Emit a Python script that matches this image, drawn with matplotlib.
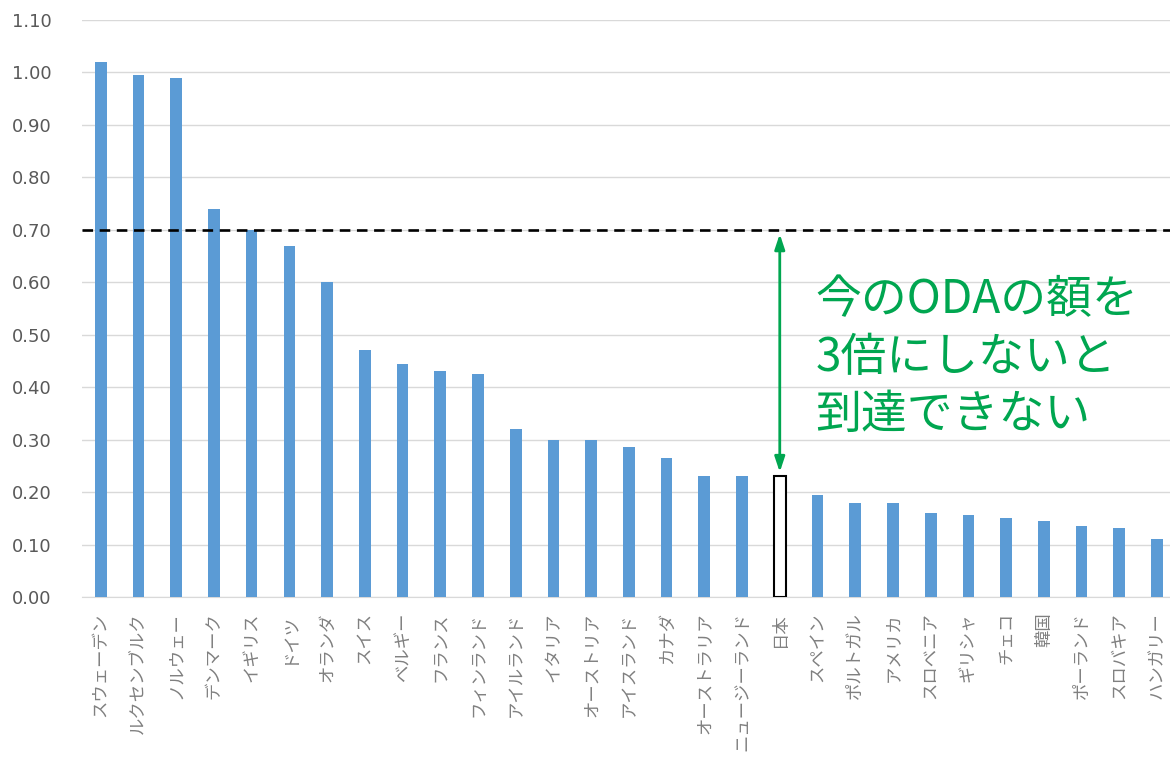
import matplotlib
matplotlib.use("Agg")
import matplotlib.pyplot as plt

plt.rcParams["font.family"] = ["Noto Sans CJK JP", "DejaVu Sans"]

countries = ["スウェーデン", "ルクセンブルク", "ノルウェー", "デンマーク", "イギリス",
             "ドイツ", "オランダ", "スイス", "ベルギー", "フランス", "フィンランド",
             "アイルランド", "イタリア", "オーストリア", "アイスランド", "カナダ",
             "オーストラリア", "ニュージーランド", "日本", "スペイン", "ポルトガル",
             "アメリカ", "スロベニア", "ギリシャ", "チェコ", "韓国", "ポーランド",
             "スロバキア", "ハンガリー"]
oda_gni = [1.02, 0.995, 0.99, 0.74, 0.70, 0.67, 0.60, 0.47, 0.445, 0.43, 0.425,
           0.32, 0.30, 0.30, 0.285, 0.265, 0.23, 0.23, 0.23, 0.195, 0.18,
           0.18, 0.16, 0.157, 0.15, 0.145, 0.135, 0.132, 0.11]
target = 0.70
highlight = "日本"
note = "今のODAの額を\n3倍にしないと\n到達できない"

blue = "#5b9bd5"
green = "#00a650"

fig = plt.figure(figsize=(11.7, 7.6), dpi=100)
ax = fig.add_axes([0.070, 0.2145, 0.935, 0.7592])

x = list(range(len(countries)))
colors = ["white" if c == highlight else blue for c in countries]
edges = ["black" if c == highlight else blue for c in countries]
lws = [1.5 if c == highlight else 0 for c in countries]
ax.bar(x, oda_gni, width=0.31, color=colors, edgecolor=edges, linewidth=lws, zorder=3)

ax.set_xlim(-0.5, len(countries) - 0.5)
ax.set_ylim(0, 1.10)
ax.set_yticks([i / 10 for i in range(12)])
ax.set_yticklabels([f"{i / 10:.2f}" for i in range(12)], fontsize=13, color="#595959",
                   family=["DejaVu Sans"])
ax.grid(axis="y", color="#d9d9d9", linewidth=1, zorder=0)
ax.set_axisbelow(True)
ax.tick_params(axis="y", length=0, pad=22)

ax.set_xticks(x)
ax.set_xticklabels(countries, rotation=90, fontsize=12.5, color="#808080", va="top")
ax.tick_params(axis="x", length=0, pad=11)

for s in ["top", "right", "left"]:
    ax.spines[s].set_visible(False)
ax.spines["bottom"].set_color("#d9d9d9")

ax.axhline(target, color="black", linestyle=(0, (4, 2.5)), linewidth=1.9, zorder=4)

j = countries.index(highlight)
ax.annotate("", xy=(j, oda_gni[j] + 0.008), xytext=(j, target - 0.008),
            arrowprops=dict(arrowstyle="<|-|>,head_length=0.9,head_width=0.3",
                            color=green, lw=2, shrinkA=0, shrinkB=0), zorder=5)
ax.text(j + 0.95, 0.457, note, color=green, fontsize=33, va="center", ha="left",
        linespacing=1.25, zorder=5)

fig.savefig("out.png", dpi=100)
